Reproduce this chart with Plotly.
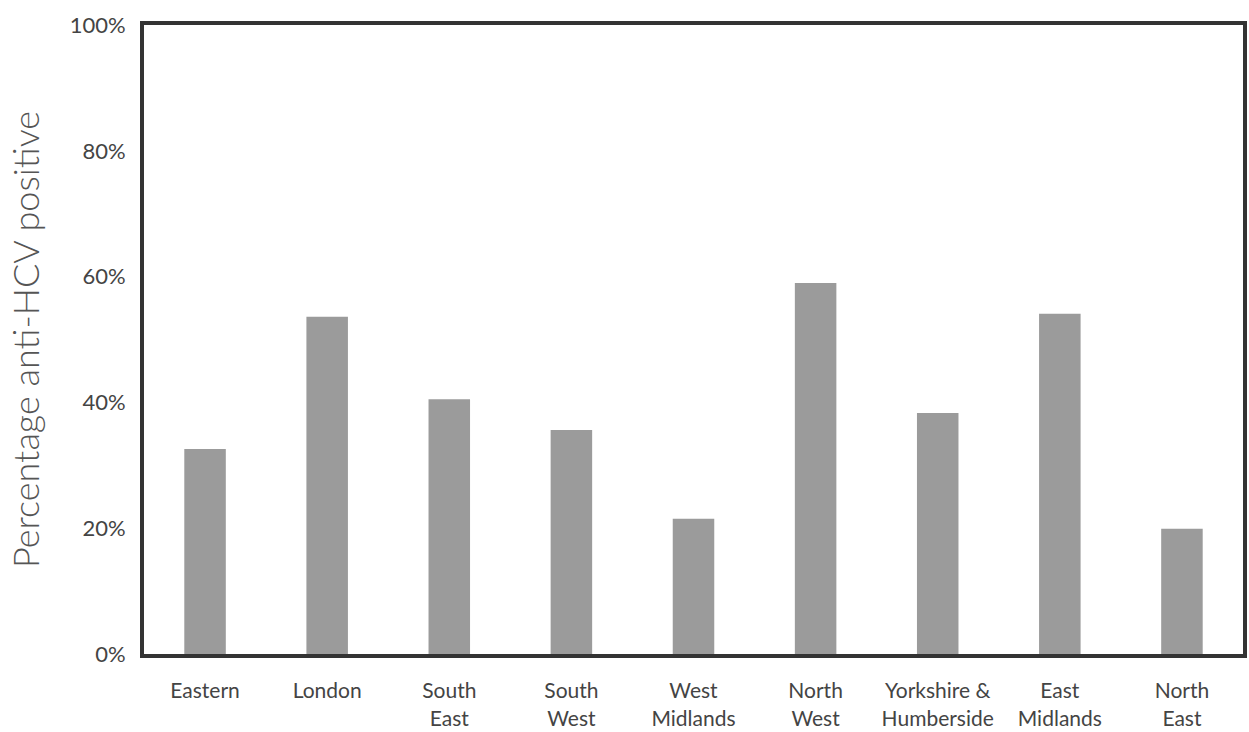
import plotly.graph_objects as go

regions = ["Eastern", "London", "South<br>East", "South<br>West", "West<br>Midlands",
           "North<br>West", "Yorkshire &<br>Humberside", "East<br>Midlands", "North<br>East"]
values = [32.6, 53.6, 40.5, 35.6, 21.5, 59.0, 38.3, 54.1, 19.9]
y_ticks = [0, 20, 40, 60, 80, 100]
y_tick_text = ["0%", "20%", "40%", "60%", "80%", "100%"]

font_family = "Lato, 'Open Sans', sans-serif"

fig = go.Figure(go.Bar(
    x=regions, y=values,
    marker=dict(color="#9b9b9b", line=dict(width=0)),
    width=0.34,
))

fig.update_layout(
    width=1249, height=732,
    margin=dict(l=144, r=2, t=25, b=69),
    plot_bgcolor="white", paper_bgcolor="white",
    showlegend=False,
    font=dict(family=font_family, color="#444444"),
)
fig.update_xaxes(
    showline=True, linecolor="#333333", linewidth=4, mirror=True,
    ticks="outside", ticklen=15, tickcolor="rgba(0,0,0,0)",
    tickfont=dict(size=21, color="#444444"),
    showgrid=False,
)
fig.update_yaxes(
    range=[0, 100], tickvals=y_ticks, ticktext=y_tick_text,
    showline=True, linecolor="#333333", linewidth=4, mirror=True,
    ticks="outside", ticklen=10, tickcolor="rgba(0,0,0,0)",
    tickfont=dict(size=22, color="#444444"),
    showgrid=False, zeroline=False,
    title=dict(text="Percentage anti-HCV positive",
               font=dict(size=36, color="#555555", weight=300), standoff=20),
)

fig.write_html("out.html", config={"displayModeBar": False},
               post_script="document.body.style.margin='0';")
